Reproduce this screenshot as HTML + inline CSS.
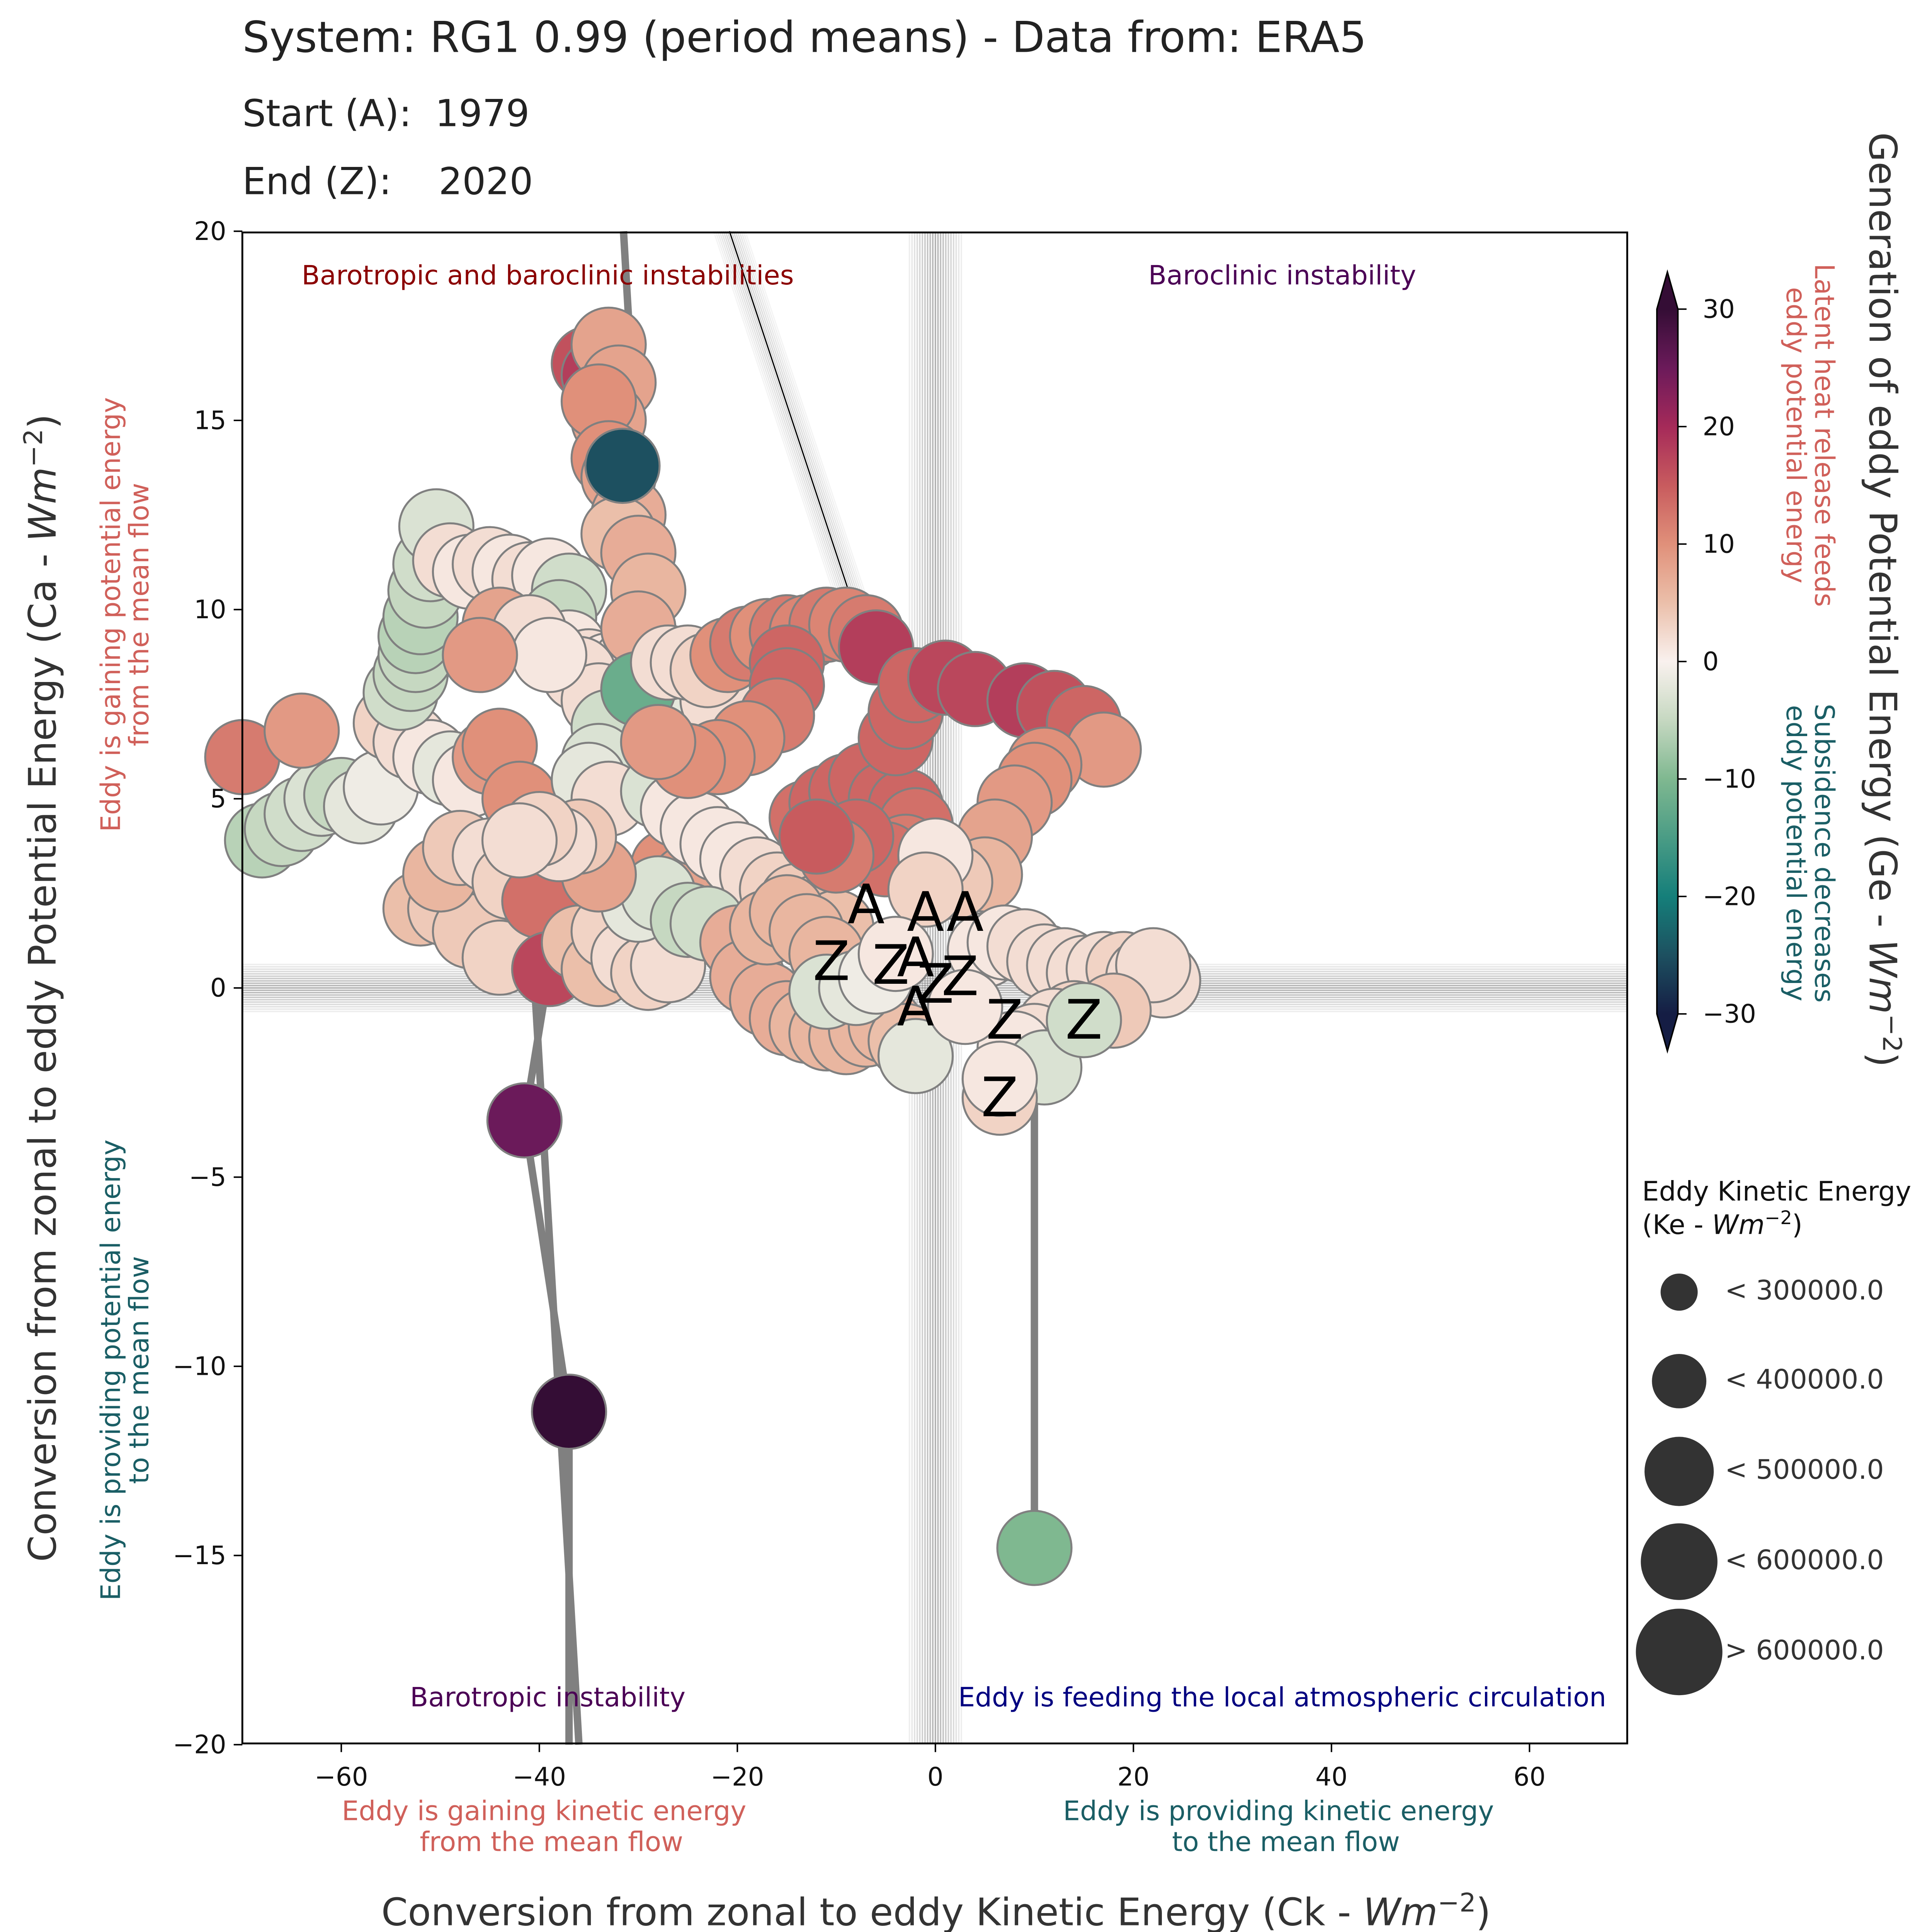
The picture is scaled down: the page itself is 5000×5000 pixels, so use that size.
<!DOCTYPE html>
<html><head><meta charset="utf-8"><style>
html,body{margin:0;padding:0;background:#fff;}
svg{display:block;font-family:"DejaVu Sans","Liberation Sans",sans-serif;}
</style></head><body>
<svg id="chart" xmlns="http://www.w3.org/2000/svg" width="5000" height="5000" viewBox="0 0 1562.5 1562.5">
<rect x="0" y="0" width="1562.5" height="1562.5" fill="#fff"/>
<text x="196" y="42" font-size="34.6" fill="#222">System: RG1 0.99 (period means) - Data from: ERA5</text>
<text x="196" y="102" font-size="30" fill="#222" xml:space="preserve">Start (A):  1979</text>
<text x="196" y="157" font-size="30" fill="#222" xml:space="preserve">End (Z):    2020</text>
<g id="bands"></g>
<g id="lines"></g>
<g id="points"></g>
<g id="marks"></g>
<rect x="196" y="188" width="1120" height="1222" fill="none" stroke="#000" stroke-width="1.5"/>
<g id="ticks"></g>
<g font-size="21.5" text-anchor="middle">
<text x="443" y="230" fill="#8b0000">Barotropic and baroclinic instabilities</text>
<text x="1037" y="230" fill="#4b0055">Baroclinic instability</text>
<text x="443" y="1380" fill="#4b0055">Barotropic instability</text>
<text x="1037" y="1380" fill="#000080">Eddy is feeding the local atmospheric circulation</text>
</g>
<g font-size="21.7" text-anchor="middle">
<text x="440" y="1472" fill="#d0605a"><tspan x="440">Eddy is gaining kinetic energy</tspan><tspan x="446" dy="25">from the mean flow</tspan></text>
<text x="1034" y="1472" fill="#1a5e65"><tspan x="1034">Eddy is providing kinetic energy</tspan><tspan x="1040" dy="25">to the mean flow</tspan></text>
</g>
<text x="757" y="1557" font-size="30.7" fill="#333" text-anchor="middle">Conversion from zonal to eddy Kinetic Energy (Ck - <tspan font-style="italic">Wm</tspan><tspan dy="-11" font-size="21">−2</tspan><tspan dy="11">)</tspan></text>
<text transform="translate(45,799) rotate(-90)" font-size="30.7" fill="#333" text-anchor="middle">Conversion from zonal to eddy Potential Energy (Ca - <tspan font-style="italic">Wm</tspan><tspan dy="-11" font-size="21">−2</tspan><tspan dy="11">)</tspan></text>
<g font-size="21.7" text-anchor="middle">
<text transform="translate(97,497) rotate(-90)" fill="#d0605a"><tspan x="0">Eddy is gaining potential energy</tspan><tspan x="0" dy="23">from the mean flow</tspan></text>
<text transform="translate(97,1108) rotate(-90)" fill="#1a5e65"><tspan x="0">Eddy is providing potential energy</tspan><tspan x="0" dy="23">to the mean flow</tspan></text>
</g>
<text transform="translate(1512,485) rotate(90)" font-size="30.7" fill="#333" text-anchor="middle">Generation of eddy Potential Energy (Ge - <tspan font-style="italic">Wm</tspan><tspan dy="-11" font-size="21">−2</tspan><tspan dy="11">)</tspan></text>
<g font-size="21.7" text-anchor="middle">
<text transform="translate(1468,352) rotate(90)" fill="#d0605a"><tspan x="0">Latent heat release feeds</tspan><tspan x="0" dy="23">eddy potential energy</tspan></text>
<text transform="translate(1468,690) rotate(90)" fill="#1a5e65"><tspan x="0">Subsidence decreases</tspan><tspan x="0" dy="23">eddy potential energy</tspan></text>
</g>
<defs><linearGradient id="cbg" x1="0" y1="1" x2="0" y2="0"></linearGradient></defs>
<g id="colorbar"></g>
<g fill="#333">
<text x="1328" y="971" font-size="21.7" fill="#111">Eddy Kinetic Energy</text>
<text x="1328" y="998" font-size="21.7" fill="#111">(Ke - <tspan font-style="italic">Wm</tspan><tspan dy="-8" font-size="15">−2</tspan><tspan dy="8">)</tspan></text>
<circle cx="1358" cy="1045" r="15"/>
<circle cx="1358" cy="1117" r="22"/>
<circle cx="1358" cy="1190" r="28"/>
<circle cx="1358" cy="1263" r="31"/>
<circle cx="1358" cy="1336" r="35"/>
<g font-size="21.7" fill="#333">
<text x="1395" y="1051">&lt; 300000.0</text>
<text x="1395" y="1123">&lt; 400000.0</text>
<text x="1395" y="1196">&lt; 500000.0</text>
<text x="1395" y="1269">&lt; 600000.0</text>
<text x="1395" y="1342">&gt; 600000.0</text>
</g></g>
</svg>
<script>
const xTicks=[-60,-40,-20,0,20,40,60];
const yTicks=[-20,-15,-10,-5,0,5,10,15,20];
const cbTicks=[-30,-20,-10,0,10,20,30];
const ck=[-70,-68,-66,-64,-62,-60,-64,-58,-56,-55,-53,-51,-49,-47,-45,-44,-42,-54,-53,-52.5,-52.5,-52,-51.5,-51,-50.4,-49,-47,-45,-43,-41,-39,-37,-38,-37,-35,-33,-31,-36,-34,-33,-34,-35,-33,
-44,-41,-39,-46,-27,-25,-23,-26,-24,-22,
-35,-34,-33,-32,-33,-34,-33,-32,-31,-32,-30,-29,-30,-31.6,-30,
-28,-26,-24,-22,-20,-18,-16,-14,-12,-10,
-27,-25,-23,-21,-19,-17,-15,-13,-11,-9,-7,-6,-15,-15,-16,-19,-22,-25,-28,
-13,-11,-9,-7,-5,-3,-2,-3,-5,-8,-10,-12,
-4,-3,-2,1,4,9,12,15,17,11,10,8,6,5,2,0,-1,
-52,-49.5,-47,-44,-50,-48,-45,-43,-40,-39,-36,-34,-33,-31,-29,-27,-30,-28,-25,-23,-34,-36,-38,-40,-42,
-20,-19,-17,-15,-13,-11,-9,-7,-5,-3,-2,-17,-15,-13,-11,
-11,-8,-6,-4,
5,7,9,11,13,15,17,19,21,23,22,18,14,12,10,8,11,15,6.5,6.5,3,
-41.5,-37,10];
const ca=[6.1,3.9,4.2,4.6,5,5.1,6.8,4.8,5.3,7,6.5,6.1,5.8,5.5,6.1,6.4,5,7.8,8.3,8.8,9.3,9.8,10.5,11.2,12.2,11.3,11,11.2,11,10.8,10.9,10.5,9.8,9,8.5,8.4,8.5,8.3,7.6,6.9,6,5.5,5,
9.6,9.4,8.8,8.8,3.2,2.8,2.6,6.8,7.2,7.6,
16.5,16.2,17,16,15,15.5,14,13.5,12.5,12,11.5,10.5,9.5,13.8,7.9,
5.2,4.7,4.2,3.8,3.4,3,2.6,2.3,2,1.6,
8.6,8.6,8.4,8.8,9.1,9.3,9.4,9.4,9.6,9.6,9.4,9,8.6,8,7.2,6.6,6.1,6,6.5,
4.5,4.9,5.2,5.5,5,4.8,4.3,3.6,3.4,4,3.5,4,
6.6,7.3,8,8.2,7.9,7.6,7.4,7,6.3,5.9,5.5,4.9,4,3,2.8,3.5,2.6,
2.1,2.1,1.5,0.8,3,3.7,3.5,2.8,2.3,0.5,1.2,0.5,1.5,0.8,0.4,0.6,2.2,2.5,1.8,1.7,3,4,3.8,4.2,3.9,
1.2,0.3,-0.3,-0.8,-1,-1.2,-1.3,-1.1,-1,-1.4,-1.8,1.6,2,1.5,0.9,
-0.1,0,0.3,0.9,
1,1.2,1.1,0.7,0.6,0.4,0.5,0.5,0.3,0.2,0.6,-0.6,-0.8,-1,-1.4,-1.6,-2.1,-0.85,-2.9,-2.4,-0.5,
-3.5,-11.2,-14.8];
const ge=[12,-6,-5,-4,-3,-5,9,-2,-1,3,2,1,-2,1,9,10,10,-4,-5,-5,-6,-6,-5,-4,-3,2,1,2,1,2,1,-4,-5,1,2,1,2,2,2,-4,-3,-2,2,
8,2,1,9,10,9,8,-3,-2,2,
16,18,8,8,8,10,10,8,7,5,7,6,7,-25,-12,
-3,1,1,1,1,2,3,4,5,5,
2,2,3,10,12,10,12,11,12,11,12,18,14,14,12,10,10,10,9,
13,14,14,14,14,14,13,12,13,14,12,15,
14,14,14,17,17,18,16,14,9,10,10,9,8,6,4,1,3,
5,4,4,3,6,4,2,3,13,17,5,5,3,2,3,2,-2,-3,-5,-4,8,4,2,3,2,
7,7,7,7,6,6,6,6,6,5,-2,6,6,6,6,
-3,-2,-1,1,
1,1,2,2,2,2,2,3,2,2,2,4,3,2,2,1,-3,-4,3,1,1,
25,30,-10];
const lineA_ck=[-39,-41.5,-37,-37];
const lineA_ca=[0.5,-3.5,-11.2,-20];
const lineB_ck=[-40.5,-36];
const lineB_ca=[0.2,-20];
const lineC_ck=[-31.5,-29.5];
const lineC_ca=[20,11];
const lineD_ck=[10,10];
const lineD_ca=[-1.5,-14.2];
const arrow_ck=[-20.8,-7];
const arrow_ca=[20,9.1];
const markLetters=["A","A","A","Z","Z","A","Z","Z","A","Z","Z","Z"];
const mark_ck=[-7,-1,3,-10.5,-4.5,-2,0,2.5,-2,7,15,6.5];
const mark_ca=[2.2,2,2,0.7,0.6,0.8,0.1,0.3,-0.5,-0.85,-0.85,-2.9];

const X=v=>756.5+v*8.008, Y=v=>799-v*30.6;
const NS="http://www.w3.org/2000/svg";
function mk(t,a,p){const e=document.createElementNS(NS,t);for(const k in a)e.setAttribute(k,a[k]);p.appendChild(e);return e;}
const stops=[[-30,[21,29,68]],[-25,[29,80,96]],[-20,[21,127,122]],[-10,[127,184,144]],[-5,[198,216,193]],[0,[249,241,238]],[5,[235,191,170]],[10,[224,144,122]],[15,[200,91,94]],[20,[165,42,89]],[25,[107,26,90]],[30,[52,13,53]]];
function cmap(v){v=Math.max(-30,Math.min(30,v));for(let i=0;i<stops.length-1;i++){const [a,ca1]=stops[i],[b,cb]=stops[i+1];if(v<=b){const t=(v-a)/(b-a);return `rgb(${ca1.map((c,j)=>Math.round(c+(cb[j]-c)*t)).join(',')})`;}}return 'rgb(52,13,53)';}
const bands=document.getElementById('bands');
for(let i=-10;i<=10;i++){
 const l1=mk('line',{x1:196,x2:1316,y1:Y(0)+i*1.9,y2:Y(0)+i*1.9,stroke:'#666','stroke-width':1.2,opacity:0.5-Math.abs(i)*0.04},bands);
 
 const l2=mk('line',{y1:188,y2:1410,x1:X(0)+i*2.1,x2:X(0)+i*2.1,stroke:'#666','stroke-width':1.2,opacity:0.5-Math.abs(i)*0.04},bands);
 
}
for(let i=-8;i<=8;i++){
 const l=mk('line',{x1:X(arrow_ck[0])+i*1.6,y1:Y(arrow_ca[0]),x2:X(arrow_ck[1])+i*1.6,y2:Y(arrow_ca[1]),stroke:'#777','stroke-width':1,opacity:0.35-Math.abs(i)*0.035},bands);
 
}
const la=mk('line',{x1:X(arrow_ck[0]),y1:Y(arrow_ca[0]),x2:X(arrow_ck[1]),y2:Y(arrow_ca[1]),stroke:'#000','stroke-width':1},bands);

const lines=document.getElementById('lines');
[[lineA_ck,lineA_ca],[lineB_ck,lineB_ca],[lineC_ck,lineC_ca],[lineD_ck,lineD_ca]].forEach(([xs,ys])=>{
 const p=mk('polyline',{points:xs.map((v,i)=>X(v)+','+Y(ys[i])).join(' '),fill:'none',stroke:'#808080','stroke-width':6,'stroke-linejoin':'round'},lines);
 
});
const pts=document.getElementById('points');
ck.forEach((v,i)=>{
 const c=mk('circle',{cx:X(v),cy:Y(ca[i]),r:30,fill:cmap(ge[i]),stroke:'#808080','stroke-width':1.6},pts);
 
});
const marks=document.getElementById('marks');
markLetters.forEach((s,i)=>{
 const t=mk('text',{x:X(mark_ck[i]),y:Y(mark_ca[i])+15,'font-size':44,'text-anchor':'middle',fill:'#000'},marks);
 t.textContent=s;
 
});
const tk=document.getElementById('ticks');
xTicks.forEach(v=>{
 const l=mk('line',{x1:X(v),x2:X(v),y1:1410,y2:1417,stroke:'#000','stroke-width':1.2},tk);
 
 const t=mk('text',{x:X(v),y:1444,'font-size':20.5,'text-anchor':'middle',fill:'#111'},tk);
 t.textContent=v<0?'−'+(-v):String(v);
 
});
yTicks.forEach(v=>{
 const l=mk('line',{x1:189,x2:196,y1:Y(v),y2:Y(v),stroke:'#000','stroke-width':1.2},tk);
 
 const t=mk('text',{x:183,y:Y(v)+7,'font-size':20.5,'text-anchor':'end',fill:'#111'},tk);
 t.textContent=v<0?'−'+(-v):String(v);
 
});
const grad=document.getElementById('cbg');
for(let v=-30;v<=30;v+=2.5){mk('stop',{offset:((v+30)/60),'stop-color':cmap(v)},grad);}
const cb=document.getElementById('colorbar');
const CY=v=>535-v*9.5;
const r=mk('rect',{x:1340,y:CY(30),width:17,height:CY(-30)-CY(30),fill:'url(#cbg)'},cb);

const t1=mk('polygon',{points:`1340,${CY(30)} 1357,${CY(30)} 1348.5,220`,fill:cmap(30)},cb);

const t2=mk('polygon',{points:`1340,${CY(-30)} 1357,${CY(-30)} 1348.5,850`,fill:cmap(-30)},cb);

const o=mk('polygon',{points:`1348.5,220 1357,${CY(30)} 1357,${CY(-30)} 1348.5,850 1340,${CY(-30)} 1340,${CY(30)}`,fill:'none',stroke:'#000','stroke-width':1.2},cb);

cbTicks.forEach(v=>{
 const l=mk('line',{x1:1357,x2:1364,y1:CY(v),y2:CY(v),stroke:'#000','stroke-width':1.2},cb);
 
 const t=mk('text',{x:1377,y:CY(v)+7,'font-size':20.5,fill:'#111'},cb);
 t.textContent=v<0?'−'+(-v):String(v);
 
});
</script>
</body></html>
